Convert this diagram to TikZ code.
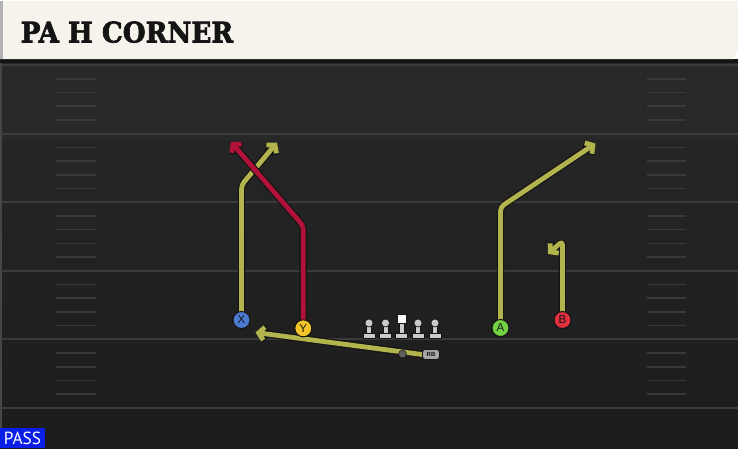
\documentclass[tikz,border=0pt]{standalone}
\usepackage{fontspec}
\setmainfont{Liberation Sans}
\newfontfamily\titlefont[BoldFeatures={FakeBold=2.5}]{DejaVu Serif}
\newfontfamily\passfont{PT Sans}
\usetikzlibrary{arrows.meta}
\definecolor{fieldtop}{HTML}{282828}
\definecolor{fieldbot}{HTML}{1C1C1C}
\definecolor{yardline}{HTML}{3A3A3A}
\definecolor{hashcol}{HTML}{393939}
\definecolor{cream}{HTML}{F6F3EC}
\definecolor{routeyel}{HTML}{B4B44E}
\definecolor{routered}{HTML}{B0123A}
\definecolor{pblue}{HTML}{4A7AD2}
\definecolor{pyellow}{HTML}{F2C42A}
\definecolor{pgreen}{HTML}{72D242}
\definecolor{pred}{HTML}{E0303E}
\definecolor{outl}{HTML}{141414}
\definecolor{linegray}{HTML}{CBCBCB}
\definecolor{passblue}{HTML}{0B1FE6}
\tikzset{
  x=1pt, y=-1pt,
  outline/.style={draw=outl, line width=7.2pt, line cap=round, line join=round, rounded corners=4pt,
    -{Straight Barb[length=5.5pt,width=13pt]}},
  yroute/.style={draw=routeyel, line width=4.8pt, line cap=round, line join=round, rounded corners=4pt,
    -{Straight Barb[length=5.5pt,width=13pt]}},
  rroute/.style={draw=routered, line width=4.8pt, line cap=round, line join=round, rounded corners=4pt,
    -{Straight Barb[length=5.5pt,width=13pt]}},
  player/.style={circle, minimum size=17pt, inner sep=0pt, draw=outl, line width=1pt, fill=#1,
    text=outl, font=\fontsize{11.5}{11.5}\selectfont},
  rbstyle/.style={draw=outl, line width=0.7pt, fill=gray!70, rounded corners=3pt, minimum width=17pt,
      minimum height=10pt, inner sep=0pt, font=\bfseries\fontsize{6}{6}\selectfont, text=outl},
  hashmark/.style={draw=hashcol, line width=1.6pt},
  yardmark/.style={draw=yardline, line width=2pt},
  lman/.pic={
    \fill[linegray, draw=outl, line width=0.6pt] (-6,0) rectangle (6,-5);
    \fill[linegray, draw=outl, line width=0.6pt] (-2.5,-5) rectangle (2.5,-12);
    \fill[linegray, draw=outl, line width=0.6pt] (0,-15.5) circle (4pt);
  },
  cman/.pic={
    \fill[linegray, draw=outl, line width=0.6pt] (-6,0) rectangle (6,-5);
    \fill[linegray, draw=outl, line width=0.6pt] (-2.5,-5) rectangle (2.5,-16);
    \fill[white!95!gray, draw=outl, line width=0.6pt] (-4.5,-15.5) rectangle (4.5,-24.5);
  }
}
\begin{document}
\begin{tikzpicture}
\useasboundingbox (0,0) rectangle (738,448);
% field
\shade[top color=fieldtop, bottom color=fieldbot] (0,60) rectangle (738,448);
\fill[fieldtop] (0,60) rectangle (738,140);
\draw[draw=gray!55!black, line width=1.5pt] (1,60) -- (1,448);
% yard lines
\foreach \yy in {65,133.6,202.2,270.8,339.4,408} {
  \draw[yardmark] (2,\yy) -- (738,\yy);
}
% hash marks
\foreach \base in {65,133.6,202.2,270.8,339.4} {
  \foreach \k in {1,2,3,4} {
    \draw[hashmark] (56,\base+13.72*\k) -- (96,\base+13.72*\k);
    \draw[hashmark] (647,\base+13.72*\k) -- (686,\base+13.72*\k);
  }
}
% title band
\fill[black!92] (0,59) rectangle (738,63);
\fill[cream] (0,1) -- (738,1) -- (738,48) -- (733.5,59) -- (0,59) -- cycle;
\fill[gray!60] (0,1) rectangle (3,59);
\node[anchor=south west, inner sep=0pt, text=black!92] (title) at (20.5,43)
  {\resizebox{212.5pt}{21pt}{\titlefont\bfseries PA H CORNER}};
% players (nodes)
\node[player=pblue]   (X) at (241.5,320) {X};
\node[player=pyellow] (Y) at (303.3,328.3) {Y};
\node[player=pgreen]  (A) at (500.5,328) {A};
\node[player=pred]    (B) at (562.5,320) {B};
\node[rbstyle] (RB) at (431,354.5) {RB};
% route coordinates
\coordinate (xb) at (241.5,185);
\coordinate (xt) at (277,142.5);
\coordinate (yb) at (303.3,226);
\coordinate (yt) at (231,142);
\coordinate (ab) at (500.5,207);
\coordinate (at) at (595.5,143.5);
\coordinate (bb) at (562.5,241);
\coordinate (bt) at (548,254);
\coordinate (rt) at (255.5,332.5);
% routes
\draw[outline] (X.center) -- (xb) -- (xt);
\draw[outline] (A.center) -- (ab) -- (at);
\draw[outline] (B.center) -- (bb) -- (bt);
\draw[outline] (RB.west) -- (rt);
\draw[yroute] (X.center) -- (xb) -- (xt);
\draw[outline] (Y.center) -- (yb) -- (yt);
\draw[rroute] (Y.center) -- (yb) -- (yt);
\draw[yroute] (A.center) -- (ab) -- (at);
\draw[yroute] (B.center) -- (bb) -- (bt);
\draw[yroute] (RB.west) -- (rt);
% redraw player nodes on top
\node[player=pblue]   at (X) {X};
\node[player=pyellow] at (Y) {Y};
\node[player=pgreen]  at (A) {A};
\node[player=pred]    at (B) {B};
\node[rbstyle] at (RB) {RB};
% QB dot
\node[circle, fill=gray!75!black, draw=outl, line width=0.5pt, minimum size=8pt, inner sep=0pt] (QB) at (402.5,354) {};
% line
\pic (lt) at (369,338.5) {lman};
\pic (lg) at (385.5,338.5) {lman};
\pic (c)  at (401.5,338.5) {cman};
\pic (rg) at (418,338.5) {lman};
\pic (rtk) at (435,338.5) {lman};
% pass label
\fill[passblue] (0,427.5) rectangle (45,448);
\node[inner sep=0pt, text=white] (pass) at (22.5,438.5)
  {\resizebox{37pt}{12.5pt}{\passfont PASS}};
\end{tikzpicture}
\end{document}
